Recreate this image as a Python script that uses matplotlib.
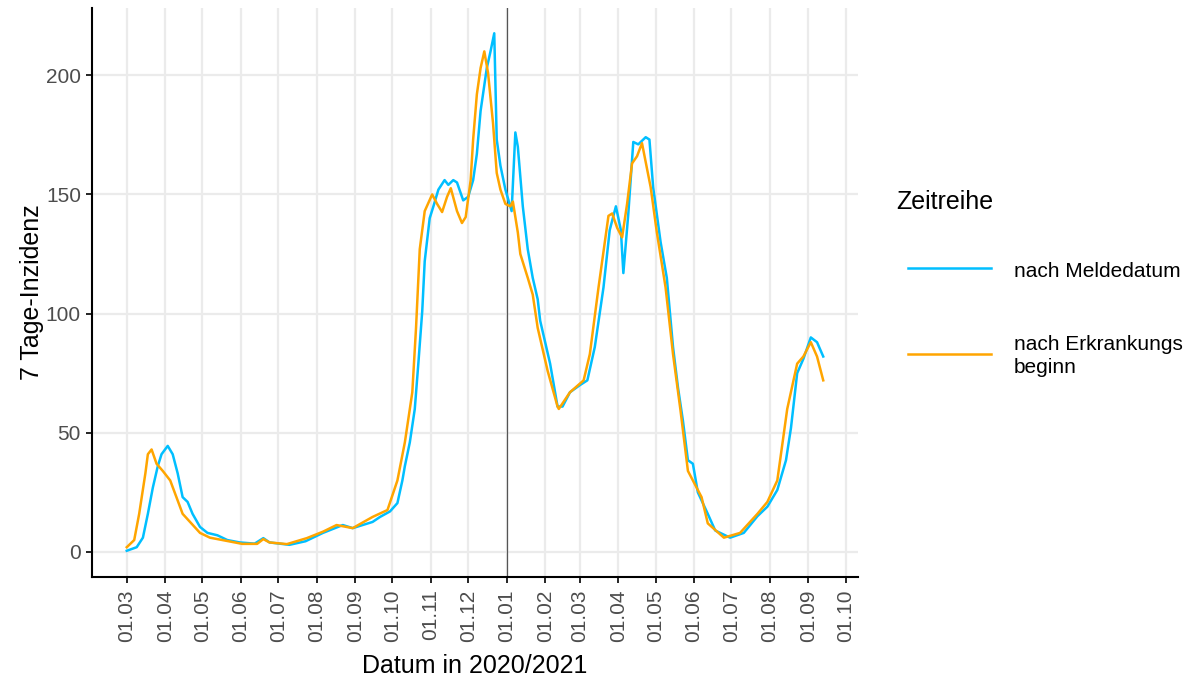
import numpy as np
import matplotlib
matplotlib.use("Agg")
import matplotlib.pyplot as plt
import matplotlib.dates as mdates
from matplotlib.lines import Line2D

plt.rcParams['font.family'] = ['Liberation Sans', 'DejaVu Sans']

start = np.datetime64('2020-03-01')

# days since 01.03.2020 and 7-day incidence, by reporting date (Meldedatum)
melde_days = [0, 8, 13, 17, 21, 25, 28, 33, 37, 41, 45, 49, 53, 59, 65, 73, 81, 91, 103, 110,
              115, 131, 144, 158, 174, 182, 198, 204, 212, 218, 222, 224, 228, 232, 235, 238,
              240, 244, 247, 251, 256, 259, 263, 266, 271, 275, 279, 282, 285, 290, 293, 296,
              298, 301, 305, 310, 313, 315, 319, 323, 327, 331, 333, 341, 347, 351, 357, 365,
              371, 377, 384, 389, 394, 398, 400, 404, 408, 412, 418, 421, 424, 430, 435, 440,
              444, 448, 452, 456, 460, 468, 474, 486, 497, 508, 516, 524, 531, 535, 540, 545,
              551, 556, 561]
melde_vals = [0.5, 2, 6, 16, 27, 36, 41, 44.5, 41, 33, 23, 21, 16, 10.5, 8, 7, 5, 4, 3.5, 5.8,
              4, 3, 4.5, 8, 11.3, 10, 12.6, 14.7, 17, 20.5, 30, 36, 46, 60, 80, 101,
              122, 140, 145, 152, 156, 154, 156, 155, 147.5, 149, 156, 167, 185, 203, 210, 217.6,
              173, 162, 152, 143, 176, 170, 145, 127, 115, 106, 97, 79, 61, 61, 67, 70,
              72, 86, 111, 135, 145, 135, 117, 142, 172, 171, 174, 173, 153, 130, 115, 86,
              69, 55, 38.5, 37, 25, 16, 9, 6, 8, 15, 19, 26, 38.5, 52, 75, 81,
              90, 88, 82]

# by date of illness onset (Erkrankungsbeginn)
erkr_days = [0, 6, 10, 15, 17, 20, 24, 29, 35, 40, 45, 52, 59, 67, 77, 93, 105, 110, 115, 129,
             145, 158, 169, 182, 198, 210, 218, 224, 230, 233, 236, 240, 246, 250, 254, 258,
             261, 266, 270, 273, 277, 279, 282, 285, 288, 291, 295, 298, 301, 305, 309, 311,
             315, 317, 323, 327, 331, 339, 347, 348, 357, 368, 373, 380, 388, 391, 395, 399,
             403, 407, 411, 415, 422, 427, 434, 440, 446, 452, 463, 468, 481, 494, 508, 516,
             524, 532, 540, 545, 551, 556, 561]
erkr_vals = [2, 5, 16, 33, 41, 43, 37, 34, 30, 23, 16, 12, 8, 6, 5, 3.4, 3.4, 5.4, 4, 3.3,
             5.8, 8.5, 11.3, 10, 14.7, 17.6, 30, 46, 67, 94, 127, 143, 150, 146, 142.6, 149,
             152.6, 143, 138, 140.5, 156, 173, 192, 203, 210, 201, 180, 159, 152, 146, 145, 147,
             134, 125, 115, 108, 94, 76, 61, 60, 67, 72, 83, 111, 141, 142, 136, 132,
             146, 163, 166, 171.5, 153, 134, 111, 83, 59.5, 34, 23, 12, 6, 8, 16, 21,
             30, 60, 79, 82, 88, 82, 72]

series_labels = ["nach Meldedatum", "nach Erkrankungs\nbeginn"]
legend_title = "Zeitreihe"
y_ticks = [0, 50, 100, 150, 200]
x_label = "Datum in 2020/2021"
y_label = "7 Tage-Inzidenz"
vline_date = '2021-01-01'

W, H = 1195, 684
fig = plt.figure(figsize=(W / 100, H / 100), dpi=100)
ax = fig.add_axes([92 / W, 1 - 577 / H, (858 - 92) / W, (577 - 8) / H])

melde_x = start + np.array(melde_days).astype('timedelta64[D]')
erkr_x = start + np.array(erkr_days).astype('timedelta64[D]')

blue = '#00BFFF'
orange = '#FFA500'
LW = 1.8
ax.plot(melde_x, melde_vals, color=blue, lw=LW, zorder=3, solid_joinstyle='round')
ax.plot(erkr_x, erkr_vals, color=orange, lw=LW, zorder=4, solid_joinstyle='round')
ax.axvline(np.datetime64(vline_date), color='#555555', lw=0.9, zorder=2)

ax.set_xlim(start - np.timedelta64(28, 'D'), np.datetime64('2021-10-11'))
ax.set_ylim(-10.5, 228.2)

month_starts = np.arange(np.datetime64('2020-03'), np.datetime64('2021-11'),
                         np.timedelta64(1, 'M')).astype('datetime64[D]')
ax.set_xticks(month_starts)
ax.xaxis.set_major_formatter(mdates.DateFormatter('%d.%m'))
ax.set_yticks(y_ticks)

ax.grid(True, color='#EBEBEB', lw=1.6, zorder=0)
ax.set_axisbelow(True)
for s in ['top', 'right']:
    ax.spines[s].set_visible(False)
for s in ['left', 'bottom']:
    ax.spines[s].set_color('black')
    ax.spines[s].set_linewidth(1.5)

ax.tick_params(axis='both', colors='black', length=4, width=1.2, labelcolor='#4D4D4D',
               labelsize=15)
ax.tick_params(axis='y', pad=4)
ax.tick_params(axis='x', pad=5)
plt.setp(ax.get_xticklabels(), rotation=90, ha='center', va='top')

ax.set_xlabel(x_label, fontsize=18, color='black')
ax.set_ylabel(y_label, fontsize=18, color='black')
ax.xaxis.set_label_coords(0.5, (577 - 654) / 569)
ax.yaxis.set_label_coords((44 - 92) / 766, 0.5)

# legend drawn in figure coordinates
fig.text(896 / W, 1 - 209 / H, legend_title, fontsize=18, va='baseline', ha='left')
fig.add_artist(Line2D([908 / W, 991 / W], [1 - 268 / H, 1 - 268 / H], color=blue, lw=LW,
                      transform=fig.transFigure))
fig.text(1014 / W, 1 - 277 / H, series_labels[0], fontsize=15, va='baseline', ha='left')
fig.add_artist(Line2D([908 / W, 991 / W], [1 - 354 / H, 1 - 354 / H], color=orange, lw=LW,
                      transform=fig.transFigure))
first, second = series_labels[1].split('\n')
fig.text(1014 / W, 1 - 350 / H, first, fontsize=15, va='baseline', ha='left')
fig.text(1014 / W, 1 - 373 / H, second, fontsize=15, va='baseline', ha='left')

fig.savefig('out.png', dpi=100)
